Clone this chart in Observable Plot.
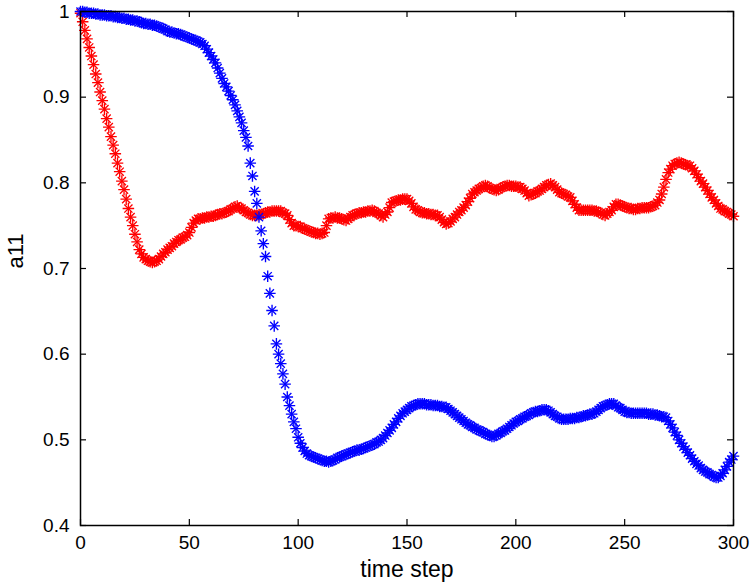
<!DOCTYPE html>
<html>
<head>
<meta charset="utf-8">
<script src="https://cdn.jsdelivr.net/npm/d3@7"></script>
<script src="https://cdn.jsdelivr.net/npm/@observablehq/plot@0.6"></script>
<style>
  html, body { margin: 0; padding: 0; background: #fff; }
</style>
</head>
<body>
<div id="chart"></div>
<script>
// Red series (one value per time step, t = 0..300)
const redValues = [
  0.998, 0.988, 0.978, 0.968, 0.958, 0.948, 0.938, 0.927, 0.917, 0.906, 0.896,
  0.886, 0.875, 0.865, 0.854, 0.844, 0.834, 0.823, 0.813, 0.802, 0.792,
  0.781, 0.770, 0.760, 0.750, 0.740, 0.731, 0.722, 0.717, 0.713, 0.711,
  0.709, 0.708, 0.707, 0.708, 0.709, 0.711, 0.714, 0.717, 0.719, 0.722,
  0.724, 0.726, 0.729, 0.731, 0.733, 0.734, 0.736, 0.737, 0.739, 0.742,
  0.748, 0.753, 0.756, 0.758, 0.758, 0.759, 0.759, 0.760, 0.760, 0.761,
  0.761, 0.762, 0.763, 0.764, 0.764, 0.765, 0.766, 0.767, 0.769, 0.770,
  0.772, 0.773, 0.771, 0.770, 0.768, 0.766, 0.765, 0.763, 0.762, 0.762,
  0.762, 0.763, 0.763, 0.764, 0.765, 0.766, 0.766, 0.767, 0.767, 0.767,
  0.767, 0.767, 0.765, 0.764, 0.762, 0.757, 0.753, 0.750, 0.750, 0.749,
  0.749, 0.747, 0.746, 0.745, 0.744, 0.743, 0.742, 0.741, 0.741, 0.740,
  0.741, 0.742, 0.750, 0.758, 0.759, 0.759, 0.760, 0.759, 0.759, 0.758,
  0.757, 0.756, 0.758, 0.760, 0.762, 0.763, 0.764, 0.765, 0.765, 0.766,
  0.766, 0.767, 0.767, 0.768, 0.767, 0.765, 0.764, 0.762, 0.760, 0.763,
  0.766, 0.771, 0.777, 0.778, 0.779, 0.780, 0.780, 0.781, 0.781, 0.781,
  0.779, 0.776, 0.772, 0.769, 0.768, 0.766, 0.765, 0.765, 0.764, 0.764,
  0.763, 0.763, 0.762, 0.762, 0.760, 0.757, 0.754, 0.752, 0.753, 0.755,
  0.758, 0.760, 0.763, 0.766, 0.768, 0.771, 0.774, 0.778, 0.782, 0.787,
  0.789, 0.791, 0.793, 0.794, 0.796, 0.797, 0.796, 0.794, 0.793, 0.792,
  0.791, 0.792, 0.794, 0.795, 0.796, 0.797, 0.797, 0.796, 0.796, 0.796,
  0.795, 0.795, 0.793, 0.791, 0.788, 0.785, 0.786, 0.787, 0.788, 0.790,
  0.791, 0.793, 0.795, 0.797, 0.798, 0.799, 0.797, 0.795, 0.792, 0.789,
  0.788, 0.787, 0.786, 0.784, 0.783, 0.779, 0.775, 0.771, 0.768, 0.768,
  0.768, 0.768, 0.768, 0.768, 0.768, 0.767, 0.767, 0.766, 0.765, 0.763,
  0.762, 0.764, 0.766, 0.768, 0.772, 0.775, 0.775, 0.774, 0.773, 0.772,
  0.771, 0.770, 0.770, 0.769, 0.769, 0.770, 0.770, 0.771, 0.771, 0.771,
  0.771, 0.772, 0.773, 0.774, 0.777, 0.780, 0.787, 0.795, 0.804, 0.812,
  0.816, 0.820, 0.822, 0.823, 0.824, 0.823, 0.822, 0.821, 0.820, 0.820,
  0.817, 0.814, 0.810, 0.806, 0.802, 0.799, 0.795, 0.791, 0.787, 0.783,
  0.780, 0.776, 0.773, 0.770, 0.769, 0.767, 0.766, 0.764, 0.763, 0.761
];

// Blue series (one value per time step, t = 0..300)
const blueValues = [
  1.000, 1.000, 0.999, 0.999, 0.998, 0.998, 0.998, 0.997, 0.997, 0.996, 0.996,
  0.996, 0.995, 0.995, 0.995, 0.994, 0.994, 0.993, 0.993, 0.992, 0.992,
  0.991, 0.991, 0.990, 0.990, 0.989, 0.989, 0.988, 0.987, 0.986, 0.986,
  0.985, 0.985, 0.984, 0.984, 0.983, 0.982, 0.981, 0.980, 0.979, 0.977,
  0.976, 0.976, 0.975, 0.974, 0.974, 0.973, 0.972, 0.971, 0.970, 0.969,
  0.968, 0.967, 0.966, 0.965, 0.964, 0.962, 0.960, 0.956, 0.952, 0.948,
  0.944, 0.940, 0.934, 0.928, 0.922, 0.916, 0.912, 0.907, 0.902, 0.897,
  0.891, 0.884, 0.877, 0.870, 0.861, 0.853, 0.843, 0.823, 0.808, 0.790,
  0.776, 0.760, 0.744, 0.729, 0.714, 0.691, 0.671, 0.651, 0.633, 0.612,
  0.600, 0.589, 0.577, 0.565, 0.550, 0.540, 0.530, 0.521, 0.513, 0.503,
  0.496, 0.491, 0.487, 0.484, 0.482, 0.481, 0.480, 0.479, 0.478, 0.477,
  0.476, 0.475, 0.475, 0.474, 0.475, 0.476, 0.477, 0.479, 0.480, 0.481,
  0.482, 0.483, 0.484, 0.485, 0.486, 0.487, 0.488, 0.488, 0.489, 0.490,
  0.491, 0.492, 0.493, 0.494, 0.495, 0.497, 0.498, 0.500, 0.502, 0.505,
  0.508, 0.511, 0.514, 0.518, 0.521, 0.525, 0.528, 0.531, 0.533, 0.535,
  0.537, 0.539, 0.540, 0.541, 0.542, 0.542, 0.542, 0.542, 0.541, 0.541,
  0.541, 0.540, 0.540, 0.540, 0.539, 0.539, 0.538, 0.538, 0.536, 0.534,
  0.532, 0.530, 0.528, 0.526, 0.524, 0.522, 0.520, 0.518, 0.517, 0.515,
  0.514, 0.512, 0.511, 0.510, 0.509, 0.507, 0.506, 0.505, 0.504, 0.504,
  0.505, 0.507, 0.508, 0.510, 0.511, 0.513, 0.515, 0.517, 0.519, 0.521,
  0.522, 0.524, 0.525, 0.527, 0.528, 0.529, 0.531, 0.532, 0.533, 0.533,
  0.534, 0.535, 0.535, 0.535, 0.534, 0.532, 0.530, 0.528, 0.527, 0.525,
  0.524, 0.524, 0.524, 0.524, 0.525, 0.525, 0.525, 0.526, 0.526, 0.527,
  0.528, 0.528, 0.529, 0.530, 0.530, 0.531, 0.533, 0.535, 0.537, 0.539,
  0.540, 0.541, 0.542, 0.542, 0.542, 0.540, 0.538, 0.537, 0.535, 0.533,
  0.532, 0.532, 0.531, 0.531, 0.531, 0.531, 0.531, 0.531, 0.531, 0.531,
  0.530, 0.530, 0.530, 0.529, 0.529, 0.528, 0.527, 0.527, 0.526, 0.522,
  0.518, 0.514, 0.509, 0.505, 0.500, 0.496, 0.492, 0.489, 0.485, 0.482,
  0.478, 0.475, 0.472, 0.470, 0.467, 0.465, 0.463, 0.462, 0.460, 0.459,
  0.457, 0.456, 0.456, 0.458, 0.461, 0.465, 0.469, 0.474, 0.477, 0.481
];

const xTicks = [0, 50, 100, 150, 200, 250, 300];
const yTicks = [0.4, 0.5, 0.6, 0.7, 0.8, 0.9, 1.0];
const xLabel = "time step";
const yLabel = "a11";

const red = redValues.map((v, i) => ({t: i, v}));
const blue = blueValues.map((v, i) => ({t: i, v}));

const W = 750, H = 587;
const mL = 80, mR = 17, mT = 11, mB = 62;
const plotW = W - mL - mR, plotH = H - mT - mB;
const tick = 6;
const font = "'Liberation Sans', Arial, Helvetica, sans-serif";

function starMarks(data, color) {
  return [
    Plot.dot(data, {x: "t", y: "v", symbol: "plus", stroke: color, r: 3.8, strokeWidth: 1.35}),
    Plot.dot(data, {x: "t", y: "v", symbol: "times", stroke: color, r: 3.8, strokeWidth: 1.35})
  ];
}

const chart = Plot.plot({
  width: W,
  height: H,
  marginLeft: mL,
  marginRight: mR,
  marginTop: mT,
  marginBottom: mB,
  style: {fontFamily: font, fontSize: "19px", background: "#fff", color: "#000"},
  x: {domain: [0, 300], ticks: xTicks, label: null},
  y: {domain: [0.4, 1], ticks: yTicks, label: null},
  marks: [
    ...starMarks(red, "#ff0000"),
    ...starMarks(blue, "#0000ff"),
    Plot.frame({stroke: "#000", strokeWidth: 1.5}),
    // inward ticks on all four sides
    Plot.tickX(xTicks, {x: d => d, insetTop: plotH - tick, stroke: "#000", strokeWidth: 1.2}),
    Plot.tickX(xTicks, {x: d => d, insetBottom: plotH - tick, stroke: "#000", strokeWidth: 1.2}),
    Plot.tickY(yTicks, {y: d => d, insetRight: plotW - tick, stroke: "#000", strokeWidth: 1.2}),
    Plot.tickY(yTicks, {y: d => d, insetLeft: plotW - tick, stroke: "#000", strokeWidth: 1.2}),
    Plot.axisX(xTicks, {tickSize: 0, tickPadding: 10, fontSize: 19, label: null}),
    Plot.axisY(yTicks, {tickSize: 0, tickPadding: 11, fontSize: 19, label: null,
      tickFormat: d => String(+d.toFixed(1))}),
    Plot.text([xLabel], {frameAnchor: "bottom", dy: 51, fontSize: 23, fill: "#000"}),
    Plot.text([yLabel], {frameAnchor: "left", dx: -65, rotate: -90, fontSize: 22, fill: "#000"})
  ]
});

document.getElementById("chart").appendChild(chart);
</script>
</body>
</html>
